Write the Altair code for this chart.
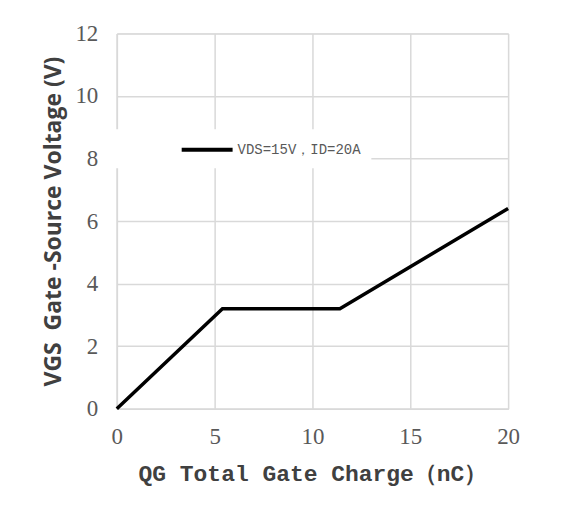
import altair as alt
import pandas as pd

qg = [0, 5.4, 11.4, 20]
vgs = [0, 3.2, 3.2, 6.4]
series = ["VDS=15V，ID=20A"] * len(qg)

x_ticks = [0, 5, 10, 15, 20]
y_ticks = [0, 2, 4, 6, 8, 10, 12]

df = pd.DataFrame({"qg": qg, "vgs": vgs, "series": series})

W, H = 392, 376
grid_c = "#d9d9d9"
lab_c = "#595959"
title_c = "#404040"

chart = alt.Chart(df).mark_line(strokeWidth=3.5, strokeJoin="miter").encode(
    x=alt.X("qg:Q", scale=alt.Scale(domain=[0, 20], nice=False),
            axis=alt.Axis(values=x_ticks, title="QG Total Gate Charge（nC）",
                          grid=True, gridColor=grid_c, gridWidth=1.5,
                          domainColor=grid_c, domainWidth=1.5,
                          ticks=False, tickSize=0, labelFlush=False,
                          labelFont="Liberation Serif", labelFontSize=23,
                          labelColor=lab_c, labelBaseline="alphabetic",
                          labelPadding=35,
                          titleFont="Liberation Mono", titleFontSize=23,
                          titleFontWeight="bold", titleColor=title_c,
                          titleX=W / 2, titleY=72, titleAlign="center",
                          titleBaseline="alphabetic")),
    y=alt.Y("vgs:Q", scale=alt.Scale(domain=[0, 12], nice=False),
            axis=alt.Axis(values=y_ticks, title="VGS\u00a0 Gate -Source Voltage (V)",
                          grid=True, gridColor=grid_c, gridWidth=1.5,
                          domainColor=grid_c, domainWidth=1.5,
                          ticks=False, tickSize=0, labelFlush=False,
                          labelFont="Liberation Serif", labelFontSize=23,
                          labelColor=lab_c, labelBaseline="middle",
                          labelPadding=19,
                          titleFont="Open Sans", titleFontSize=23,
                          titleFontWeight="bold", titleColor=title_c,
                          titleAngle=270, titleX=-56, titleY=H / 2,
                          titleAlign="center", titleBaseline="alphabetic")),
    color=alt.Color("series:N",
                    scale=alt.Scale(domain=[series[0]], range=["black"]),
                    legend=alt.Legend(orient="none", legendX=-7, legendY=96,
                                      title=" ", titleOrient="left",
                                      titleFontSize=1, titlePadding=77,
                                      fillColor="white", padding=10,
                                      symbolType="M-3,0H3", symbolSize=289,
                                      symbolStrokeWidth=4, labelOffset=20,
                                      labelFont="Liberation Mono",
                                      labelFontSize=14, labelColor=lab_c)),
).properties(
    width=W, height=H,
    autosize=alt.AutoSizeParams(type="none"),
    padding={"left": 109, "top": 25, "right": 60, "bottom": 100},
).configure_view(stroke=None).configure(background="white")

chart.save("out.html", embed_options={"renderer": "svg", "actions": False})
